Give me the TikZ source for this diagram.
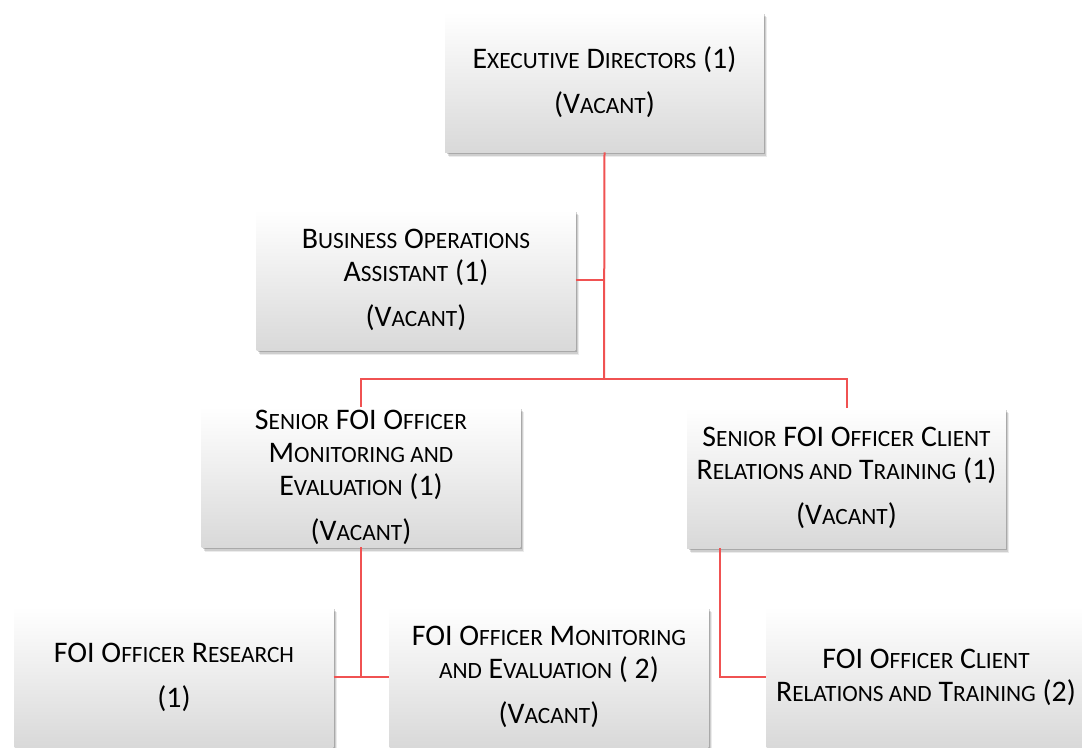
\documentclass[tikz,border=0pt]{standalone}
\usepackage{fontspec}
\setmainfont{Carlito}
\usetikzlibrary{shadows}
% small capitals, made by hand
\newcommand\smc[1]{{\fontsize{17.5}{24.75}\selectfont\MakeUppercase{#1}}}
\newcommand\vac{\\[9pt](V\smc{acant})}

\begin{document}
\begin{tikzpicture}[x=0.75pt, y=-0.75pt,
    post/.style={minimum width=239pt, minimum height=105pt, inner sep=0pt, align=center,
        top color=white, middle color=white, bottom color=black!15,
        drop shadow={shadow xshift=2.6pt, shadow yshift=-4pt, opacity=.08, fill=black},
        drop shadow={shadow xshift=1.8pt, shadow yshift=-2.8pt, opacity=.12, fill=black},
        drop shadow={shadow xshift=1pt, shadow yshift=-1.6pt, opacity=.18, fill=black},
        font=\fontsize{22.4}{24.75}\selectfont},
    link/.style={draw={rgb,255:red,240;green,82;blue,82}, line width=1.5pt}]
    \useasboundingbox (0,0) rectangle (1082,747);
        %draw the posts
    \node[post] (exec) at (604.5,82) {E\smc{xecutive} D\smc{irectors} (1)\vac};
    \node[post] (bus) at (416,280) {B\smc{usiness} O\smc{perations}\\A\smc{ssistant} (1)\vac};
    \node[post] (seniorme) at (361,477) {S\smc{enior} FOI O\smc{fficer}\\M\smc{onitoring and}\\E\smc{valuation} (1)\vac};
    \node[post] (seniorcr) at (846.5,478) {S\smc{enior} FOI O\smc{fficer} C\smc{lient}\\R\smc{elations and} T\smc{raining} (1)\vac};
    \node[post] (research) at (174,677) {FOI O\smc{fficer} R\smc{esearch}\\[9pt](1)};
    \node[post] (offme) at (549,677) {FOI O\smc{fficer} M\smc{onitoring}\\\smc{and} E\smc{valuation} ( 2)\vac};
    \node[post] (offcr) at (926,677) {FOI O\smc{fficer} C\smc{lient}\\R\smc{elations and} T\smc{raining} (2)};
        %points where the lines turn
    \coordinate (trunk) at (604,379);
    \coordinate (crdrop) at (720,548);
        %draw line from the top down
    \draw[link] (exec.south) -- (trunk);
    \draw[link] (bus.east) -- (bus.east -| trunk);
        %draw line across to both seniors
    \draw[link] (seniorme.north) |- (trunk) -| (seniorcr.north);
        %draw lines to the bottom row
    \draw[link] (seniorme.south) -- (seniorme.south |- research.east);
    \draw[link] (research.east) -- (offme.west);
    \draw[link] (crdrop) |- (offcr.west);
\end{tikzpicture}
\end{document}
